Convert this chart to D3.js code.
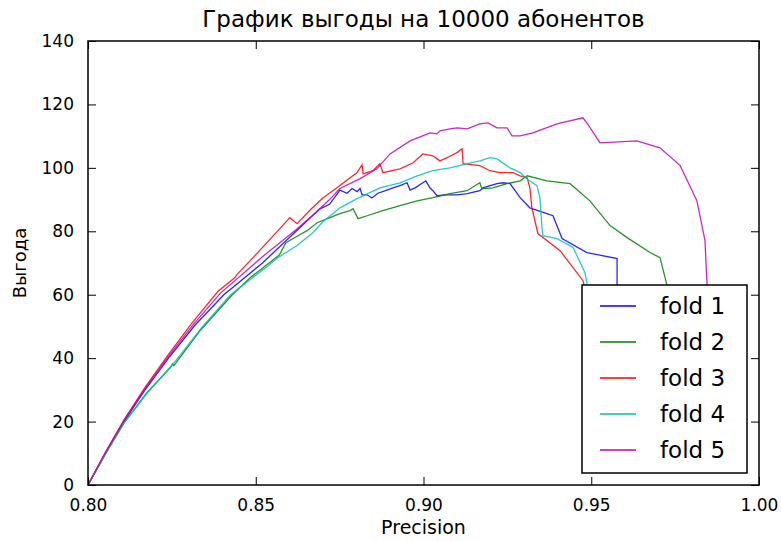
<!DOCTYPE html>
<html>
<head>
<meta charset="utf-8">
<script src="https://cdn.jsdelivr.net/npm/d3@7"></script>
<style>
  body { margin: 0; background: #fff; }
  text { font-family: "DejaVu Sans", sans-serif; fill: #000; }
</style>
</head>
<body>
<div id="chart"></div>
<script>
// precision / benefit pairs
var fold1 = [[0.800,0],[0.8052,10.1],[0.8107,20],[0.8170,30],[0.8240,40],[0.8318,50.3],[0.8405,60],[0.8520,70],[0.8620,80],[0.8690,87],[0.8720,88.5],
  [0.8751,93],[0.8772,92],[0.8787,93.5],[0.8802,92.5],[0.8811,93.5],[0.8817,91.5],[0.8832,91.5],[0.8846,90.5],
  [0.8864,92],[0.8891,93],[0.8909,93.7],[0.8930,94.4],[0.8951,95.3],[0.8960,93],[0.8975,93.7],[0.8998,95.3],
  [0.9007,95.9],[0.9019,93.7],[0.9028,92.8],[0.9040,91.2],[0.9070,91.5],[0.9100,91.5],[0.9130,91.9],[0.9168,92.8],
  [0.9177,93.7],[0.9219,95.0],[0.9237,95.3],[0.9258,95.0],[0.9288,90.6],[0.9317,87.4],[0.9368,85.6],[0.9386,84.9],
  [0.9413,77.7],[0.9487,73.3],[0.9577,71.4],[0.9577,50]];
var fold2 = [[0.800,0],[0.8052,9.8],[0.8107,19.5],[0.8175,29],[0.8248,37.3],[0.8252,38.2],[0.8256,37.6],[0.8335,48.8],[0.8430,60],[0.8485,65.5],[0.8540,70],[0.8570,72.5],
  [0.8590,76.4],[0.8626,78.6],[0.8653,80.2],[0.8683,82.7],[0.8721,84.3],[0.8751,85.6],[0.8781,86.5],[0.8790,87.1],
  [0.8805,84.0],[0.8832,84.9],[0.8879,86.5],[0.8930,88.1],[0.8981,89.6],[0.9028,90.6],[0.9079,91.9],[0.9130,92.8],
  [0.9168,95.3],[0.9174,93.4],[0.9207,93.7],[0.9249,95.0],[0.9288,95.9],[0.9309,97.5],[0.9368,95.9],[0.9437,95.0],
  [0.9496,89.6],[0.9556,81.8],[0.9607,78.0],[0.9675,73.3],[0.9705,71.7],[0.9726,62.9],[0.9730,50]];
var fold3 = [[0.800,0],[0.8052,10.3],[0.8107,20.5],[0.8168,30.5],[0.8235,40.5],[0.8308,50.8],[0.8387,61],[0.8438,65.4],[0.8445,66.5],[0.8492,71.7],[0.8602,84.3],
  [0.8623,82.4],[0.8665,87],[0.8700,90.5],[0.8742,93.7],[0.8802,98.5],[0.8817,101],[0.8820,98.1],[0.8849,99.1],[0.8870,101.3],
  [0.8879,98.5],[0.8930,99.7],[0.8969,101.6],[0.8998,104.4],[0.9028,103.8],[0.9049,102.2],[0.9070,103.2],[0.9100,104.8],
  [0.9115,106],[0.9118,101.3],[0.9168,100.7],[0.9198,99.1],[0.9228,98.5],[0.9267,98.5],[0.9288,97.5],[0.9309,96.9],
  [0.9317,93.7],[0.9323,87.4],[0.9341,79.3],[0.9407,73.9],[0.9475,64.5],[0.9500,55]];
var fold4 = [[0.800,0],[0.8052,9.8],[0.8107,19.5],[0.8180,29.5],[0.8260,39],[0.8340,49.8],[0.8425,60],[0.8535,69],[0.8566,71.7],[0.8623,75.5],[0.8671,79.6],
  [0.8700,83],[0.8751,87.4],[0.8802,90.3],[0.8840,92.2],[0.8870,93.7],[0.8930,95.3],[0.8981,97.5],[0.9028,99.1],
  [0.9079,100],[0.9130,101.3],[0.9168,102.2],[0.9198,103.2],[0.9219,102.8],[0.9258,100],[0.9288,98.5],[0.9309,96.5],
  [0.9338,94.4],[0.9347,90.6],[0.9353,81.2],[0.9356,78.6],[0.9398,77.7],[0.9446,74.9],[0.9481,67],[0.9487,64],[0.9490,55]];
var fold5 = [[0.800,0],[0.8052,10.2],[0.8107,20.3],[0.8170,30.4],[0.8238,40.3],[0.8313,50.5],[0.8395,60.5],[0.8520,72],[0.8620,80.5],[0.8680,86],[0.8720,90],
  [0.8751,93.5],[0.8811,96.6],[0.8861,99.7],[0.8900,104.4],[0.8960,108.5],[0.9019,111],[0.9040,110.7],[0.9049,111.7],
  [0.9079,112.3],[0.9100,112.6],[0.9130,112.3],[0.9168,113.9],[0.9192,114.2],[0.9219,112.6],[0.9249,112.6],[0.9264,110.1],
  [0.9288,110.1],[0.9326,111],[0.9398,113.9],[0.9475,115.8],[0.9487,114.2],[0.9526,107.9],[0.9636,108.5],[0.9705,106.3],
  [0.9765,100.7],[0.9815,89.6],[0.9839,77.1],[0.9845,63.5],[0.9848,50]];

var series = [fold1, fold2, fold3, fold4, fold5];
var names = ["fold 1", "fold 2", "fold 3", "fold 4", "fold 5"];
var colors = ["#0000ff", "#008000", "#ff0000", "#00bfbf", "#bf00bf"];
var xTicks = [0.80, 0.85, 0.90, 0.95, 1.00];
var yTicks = [0, 20, 40, 60, 80, 100, 120, 140];

var margin = {top: 41, right: 22, bottom: 56, left: 88},
    width = 781 - margin.left - margin.right,
    height = 541 - margin.top - margin.bottom;

var svg = d3.select("#chart")
  .append("svg")
  .attr("width", 781)
  .attr("height", 541)
  .append("g")
  .attr("transform", "translate(" + margin.left + "," + margin.top + ")");

var x = d3.scaleLinear().domain([0.80, 1.00]).range([0, width]);
var y = d3.scaleLinear().domain([0, 140]).range([height, 0]);

svg.append("clipPath").attr("id", "clip")
  .append("rect").attr("width", width).attr("height", height);

var line = d3.line()
  .x(function(d) { return x(d[0]); })
  .y(function(d) { return y(d[1]); });

svg.append("g").attr("clip-path", "url(#clip)")
  .selectAll("path")
  .data(series)
  .enter()
  .append("path")
  .attr("d", line)
  .attr("fill", "none")
  .attr("stroke", function(d, i) { return colors[i]; })
  .attr("stroke-width", 1.3)
  .attr("stroke-opacity", 0.85);

// axes, ticks pointing inward like matplotlib classic
function styleAxis(g) {
  g.select(".domain").remove();
  g.selectAll(".tick line").attr("stroke", "#000").attr("stroke-width", 1);
  g.selectAll(".tick text").style("font-size", "17px");
}
svg.append("g")
  .attr("transform", "translate(0," + height + ")")
  .call(d3.axisBottom(x).tickValues(xTicks).tickFormat(d3.format(".2f")).tickSizeInner(-8).tickPadding(14))
  .call(styleAxis);
svg.append("g")
  .call(d3.axisTop(x).tickValues(xTicks).tickFormat("").tickSizeInner(-8))
  .call(styleAxis);
svg.append("g")
  .call(d3.axisLeft(y).tickValues(yTicks).tickSizeInner(-8).tickPadding(14))
  .call(styleAxis);
svg.append("g")
  .attr("transform", "translate(" + width + ",0)")
  .call(d3.axisRight(y).tickValues(yTicks).tickFormat("").tickSizeInner(-8))
  .call(styleAxis);

svg.append("rect")
  .attr("width", width).attr("height", height)
  .attr("fill", "none").attr("stroke", "#000").attr("stroke-width", 1.5);

// legend
var lg = svg.append("g").attr("transform", "translate(" + (582 - margin.left) + "," + (285 - margin.top) + ")");
lg.append("rect").attr("width", 165).attr("height", 188)
  .attr("fill", "#fff").attr("stroke", "#000").attr("stroke-width", 1.5);
names.forEach(function(n, i) {
  lg.append("line").attr("x1", 18).attr("x2", 54)
    .attr("y1", 21 + i * 36).attr("y2", 21 + i * 36)
    .attr("stroke", colors[i]).attr("stroke-width", 1.3);
  lg.append("text").attr("x", 78).attr("y", 21 + i * 36).attr("dy", "0.35em")
    .style("font-size", "23px").text(n);
});

svg.append("text")
  .attr("x", width / 2).attr("y", -14)
  .attr("text-anchor", "middle")
  .style("font-size", "23px")
  .text("График выгоды на 10000 абонентов");
svg.append("text")
  .attr("x", width / 2).attr("y", height + 49)
  .attr("text-anchor", "middle")
  .style("font-size", "19px")
  .text("Precision");
svg.append("text")
  .attr("transform", "translate(" + (-62) + "," + (height / 2) + ") rotate(-90)")
  .attr("text-anchor", "middle")
  .style("font-size", "18px")
  .text("Выгода");
</script>
</body>
</html>
